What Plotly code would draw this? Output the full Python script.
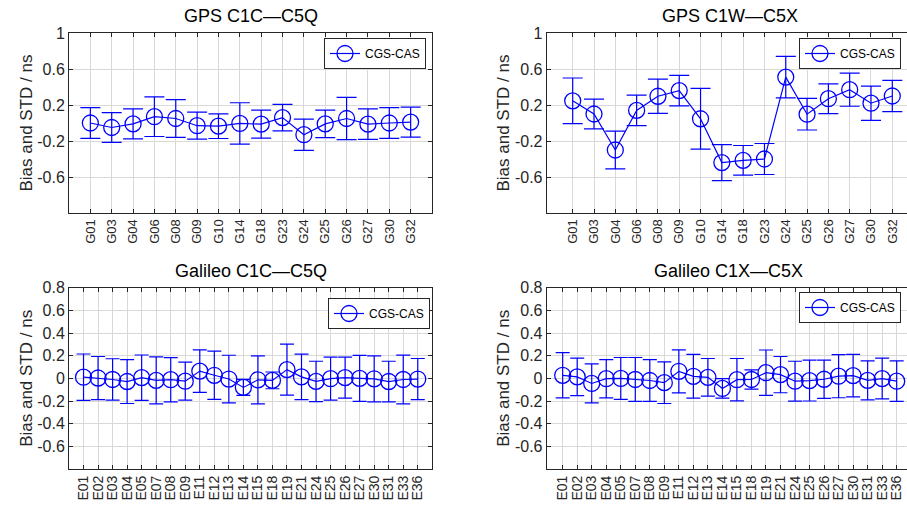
import plotly.graph_objects as go

# ---------------- data ----------------
gps_sats = ["G01", "G03", "G04", "G06", "G08", "G09", "G10", "G14",
            "G18", "G23", "G24", "G25", "G26", "G27", "G30", "G32"]
gps_c1c_c5q_bias = [0.00, -0.05, -0.01, 0.07, 0.05, -0.03, -0.035, -0.005,
                    -0.013, 0.06, -0.13, -0.01, 0.05, -0.013, 0.00, 0.01]
gps_c1c_c5q_std = [0.17, 0.165, 0.167, 0.22, 0.21, 0.15, 0.137, 0.23,
                   0.156, 0.147, 0.174, 0.153, 0.234, 0.17, 0.17, 0.167]
gps_c1w_c5x_bias = [0.246, 0.10, -0.30, 0.14, 0.297, 0.36, 0.047, -0.44,
                    -0.415, -0.40, 0.51, 0.098, 0.27, 0.37, 0.22, 0.30]
gps_c1w_c5x_std = [0.254, 0.165, 0.21, 0.17, 0.19, 0.17, 0.337, 0.20,
                   0.165, 0.172, 0.23, 0.176, 0.165, 0.184, 0.19, 0.174]

gal_sats = ["E01", "E02", "E03", "E04", "E05", "E07", "E08", "E09",
            "E11", "E12", "E13", "E14", "E15", "E18", "E19", "E21",
            "E24", "E25", "E26", "E27", "E30", "E31", "E33", "E36"]
gal_c1c_c5q_bias = [0.01, 0.003, -0.01, -0.028, 0.006, -0.018, -0.012, -0.025,
                    0.064, 0.027, -0.006, -0.08, -0.013, -0.018, 0.077, 0.013,
                    -0.027, -0.003, 0.006, 0.0, -0.004, -0.028, -0.01, -0.006]
gal_c1c_c5q_std = [0.205, 0.19, 0.183, 0.194, 0.20, 0.207, 0.195, 0.168,
                   0.188, 0.213, 0.21, 0.071, 0.212, 0.074, 0.225, 0.20,
                   0.178, 0.19, 0.181, 0.203, 0.203, 0.179, 0.215, 0.181]
gal_c1x_c5x_bias = [0.027, 0.013, -0.045, -0.003, -0.001, -0.01, -0.019, -0.038,
                    0.062, 0.018, 0.009, -0.089, -0.012, -0.01, 0.05, 0.033,
                    -0.025, -0.02, -0.008, 0.019, 0.024, -0.018, -0.002, -0.025]
gal_c1x_c5x_std = [0.20, 0.165, 0.172, 0.169, 0.185, 0.194, 0.185, 0.184,
                   0.19, 0.193, 0.166, 0.086, 0.187, 0.085, 0.20, 0.16,
                   0.176, 0.18, 0.168, 0.19, 0.187, 0.172, 0.18, 0.179]

titles = ["GPS C1C\u2014C5Q", "GPS C1W\u2014C5X",
          "Galileo C1C\u2014C5Q", "Galileo C1X\u2014C5X"]
gps_yticks = [-0.6, -0.2, 0.2, 0.6, 1]
gps_ytext = ["-0.6", "-0.2", "0.2", "0.6", "1"]
gal_yticks = [-0.6, -0.4, -0.2, 0, 0.2, 0.4, 0.6, 0.8]
gal_ytext = ["-0.6", "-0.4", "-0.2", "0", "0.2", "0.4", "0.6", "0.8"]
series_name = "CGS-CAS"

# ---------------- layout helpers ----------------
W, H = 907, 505
FONT = "Liberation Sans, Arial, sans-serif"
BLUE = "#0000ff"
AX = "#262626"
GRID = "#d9d9d9"


def px_x(p):
    return p / W


def px_y(p):
    return 1 - p / H


panels = [
    dict(cats=gps_sats, bias=gps_c1c_c5q_bias, std=gps_c1c_c5q_std,
         xd=(69, 432), yd=(33, 213), xr=[0, 17], yr=[-1, 1],
         yt=gps_yticks, ytt=gps_ytext, cap=10, right=432, mirror=True,
         leg=(426, 38), xfs=13),
    dict(cats=gps_sats, bias=gps_c1w_c5x_bias, std=gps_c1w_c5x_std,
         xd=(546.7, 907), yd=(33, 213), xr=[-0.22, 16.69], yr=[-1, 1],
         yt=gps_yticks, ytt=gps_ytext, cap=10, right=913.6, mirror=False,
         leg=(901, 38), xfs=13),
    dict(cats=gal_sats, bias=gal_c1c_c5q_bias, std=gal_c1c_c5q_std,
         xd=(69, 432.3), yd=(287.7, 469), xr=[0, 25], yr=[-0.8, 0.8],
         yt=gal_yticks, ytt=gal_ytext, cap=7, right=432.3, mirror=True,
         leg=(430, 298), xfs=14),
    dict(cats=gal_sats, bias=gal_c1x_c5x_bias, std=gal_c1x_c5x_std,
         xd=(546.7, 907), yd=(287.7, 469), xr=[-0.10, 24.71], yr=[-0.8, 0.8],
         yt=gal_yticks, ytt=gal_ytext, cap=7, right=911, mirror=False,
         leg=(901, 292), xfs=14),
]

fig = go.Figure()
layout = dict(
    width=W, height=H,
    margin=dict(l=0, r=0, t=0, b=0),
    paper_bgcolor="white", plot_bgcolor="white",
    font=dict(family=FONT, color=AX),
    showlegend=True,
)
annotations = []

for i, p in enumerate(panels):
    k = i + 1
    xa = "xaxis" if k == 1 else f"xaxis{k}"
    ya = "yaxis" if k == 1 else f"yaxis{k}"
    xref = "x" if k == 1 else f"x{k}"
    yref = "y" if k == 1 else f"y{k}"
    lg = "legend" if k == 1 else f"legend{k}"
    xpos = list(range(1, len(p["cats"]) + 1))
    fig.add_trace(go.Scatter(
        x=xpos, y=p["bias"], mode="lines+markers", name=series_name,
        xaxis=xref, yaxis=yref, legend=lg,
        line=dict(color=BLUE, width=1.2),
        marker=dict(symbol="circle-open", size=16, color=BLUE,
                    line=dict(color=BLUE, width=1.3)),
        error_y=dict(type="data", array=p["std"], visible=True,
                     color=BLUE, thickness=1.2, width=p["cap"]),
    ))
    layout[xa] = dict(
        domain=[px_x(p["xd"][0]), px_x(p["xd"][1])],
        range=p["xr"], anchor=yref,
        tickmode="array", tickvals=xpos, ticktext=p["cats"],
        tickangle=-90, tickfont=dict(size=p["xfs"], family=FONT, color=AX),
        ticks="inside", ticklen=4, tickcolor=AX,
        showline=True, linecolor=AX, linewidth=1, mirror="ticks",
        showgrid=True, gridcolor=GRID, gridwidth=1,
        zeroline=False, automargin=False,
    )
    layout[ya] = dict(
        domain=[px_y(p["yd"][1]), px_y(p["yd"][0])],
        range=p["yr"], anchor=xref,
        tickmode="array", tickvals=p["yt"], ticktext=p["ytt"],
        tickfont=dict(size=16, family=FONT, color=AX),
        ticks="inside", ticklen=4, tickcolor=AX,
        showline=True, linecolor=AX, linewidth=1,
        mirror="ticks" if p["mirror"] else False,
        showgrid=True, gridcolor=GRID, gridwidth=1,
        zeroline=False, automargin=False,
        title=dict(text="Bias and STD / ns", standoff=0,
                   font=dict(size=17, family=FONT, color=AX)),
    )
    layout[lg] = dict(
        x=px_x(p["leg"][0]), y=px_y(p["leg"][1]),
        xanchor="right", yanchor="top",
        bgcolor="white", bordercolor=AX, borderwidth=1,
        font=dict(size=12, family=FONT, color="black"),
        itemwidth=30, tracegroupgap=0,
    )
    cx = (p["xd"][0] + p["right"]) / 2
    ty = p["yd"][0] - 5
    annotations.append(dict(
        text=titles[i], x=px_x(cx), y=px_y(ty), xref="paper", yref="paper",
        xanchor="center", yanchor="bottom", showarrow=False,
        font=dict(size=18, family=FONT, color="black", weight="normal"),
    ))

layout["annotations"] = annotations
fig.update_layout(**layout)
fig.write_html("out.html")
